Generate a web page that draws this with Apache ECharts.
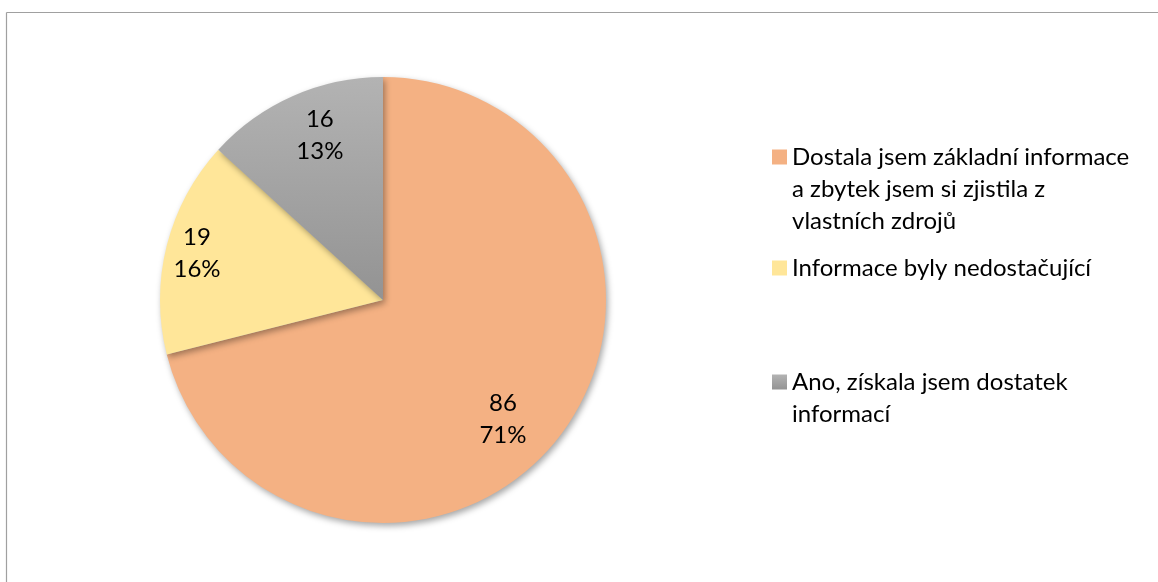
<!DOCTYPE html>
<html>
<head>
<meta charset="utf-8">
<script src="https://cdn.jsdelivr.net/npm/echarts@6/dist/echarts.min.js"></script>
<style>
  html, body { margin: 0; padding: 0; background: #fff; }
  #chart { width: 1158px; height: 582px; }
</style>
</head>
<body>
<div id="chart"></div>
<script>
// Survey answers and their counts
const categories = [
  'Dostala jsem základní informace\na zbytek jsem si zjistila z\nvlastních zdrojů',
  'Informace byly nedostačující',
  'Ano, získala jsem dostatek\ninformací'
];
const counts = [86, 19, 16];

const FONT = 'Lato, "Open Sans", "Noto Sans", sans-serif';
const FONT_SIZE = 24;
const CENTER = [383, 300];
const RADIUS = 223;
const LINE_H = 32;

const grayFill = new echarts.graphic.LinearGradient(0, 0, 0, 1, [
  { offset: 0, color: '#B3B3B3' },
  { offset: 1, color: '#939393' }
]);
const sliceColors = ['#F4B183', '#FFE699', grayFill];

const pieData = categories.map((name, i) => ({
  name: name,
  value: counts[i],
  itemStyle: { color: sliceColors[i] }
}));

// one legend block per answer; leading blank lines keep the key beside the first text line
const legendTops = [77, 252, 334];
const legends = categories.map((name, i) => {
  const lines = name.split('\n').length;
  return {
    data: [name],
    orient: 'vertical',
    left: 772,
    top: legendTops[i],
    padding: 0,
    itemWidth: 15,
    itemHeight: 15,
    selectedMode: false,
    icon: 'rect',
    formatter: n => '\n'.repeat(lines - 1) + n,
    itemStyle: { shadowBlur: 0, shadowOffsetX: 0, shadowOffsetY: 0, borderWidth: 0 },
    textStyle: {
      fontFamily: FONT,
      fontSize: FONT_SIZE,
      color: '#000',
      lineHeight: LINE_H
    }
  };
});

// placement of each slice label: fraction of the radius and a small turn (degrees)
const labelRadiusFrac = [0.76, 0.86, 0.79];
const labelTurn = [7, 0, 2.8];

const chart = echarts.init(document.getElementById('chart'), null, { renderer: 'canvas' });
chart.setOption({
  backgroundColor: '#fff',
  animation: false,
  legend: legends,
  graphic: [
    { type: 'line', shape: { x1: 6.5, y1: 12.5, x2: 1158, y2: 12.5 }, style: { stroke: '#A0A0A0', lineWidth: 1.2 } },
    { type: 'line', shape: { x1: 6.5, y1: 12.5, x2: 6.5, y2: 582 }, style: { stroke: '#A0A0A0', lineWidth: 1.2 } }
  ],
  series: [{
    type: 'pie',
    center: CENTER,
    radius: RADIUS,
    startAngle: 90,
    clockwise: true,
    percentPrecision: 0,
    data: pieData,
    itemStyle: {
      borderWidth: 0,
      shadowBlur: 6,
      shadowOffsetX: 2,
      shadowOffsetY: 3,
      shadowColor: 'rgba(0,0,0,0.35)'
    },
    label: {
      show: true,
      position: 'inside',
      formatter: '{c}\n{d}%',
      fontFamily: FONT,
      fontSize: FONT_SIZE,
      lineHeight: LINE_H,
      color: '#000'
    },
    // move each inside label outward along its slice bisector
    labelLayout: function (p) {
      const lx = p.labelRect.x + p.labelRect.width / 2;
      const ly = p.labelRect.y + p.labelRect.height / 2;
      const ang = Math.atan2(ly - CENTER[1], lx - CENTER[0]) + labelTurn[p.dataIndex] * Math.PI / 180;
      const r = RADIUS * labelRadiusFrac[p.dataIndex];
      const nx = CENTER[0] + r * Math.cos(ang);
      const ny = CENTER[1] + r * Math.sin(ang);
      return { dx: nx - lx, dy: ny - ly };
    },
    labelLine: { show: false },
    emphasis: { disabled: true }
  }]
});
</script>
</body>
</html>
